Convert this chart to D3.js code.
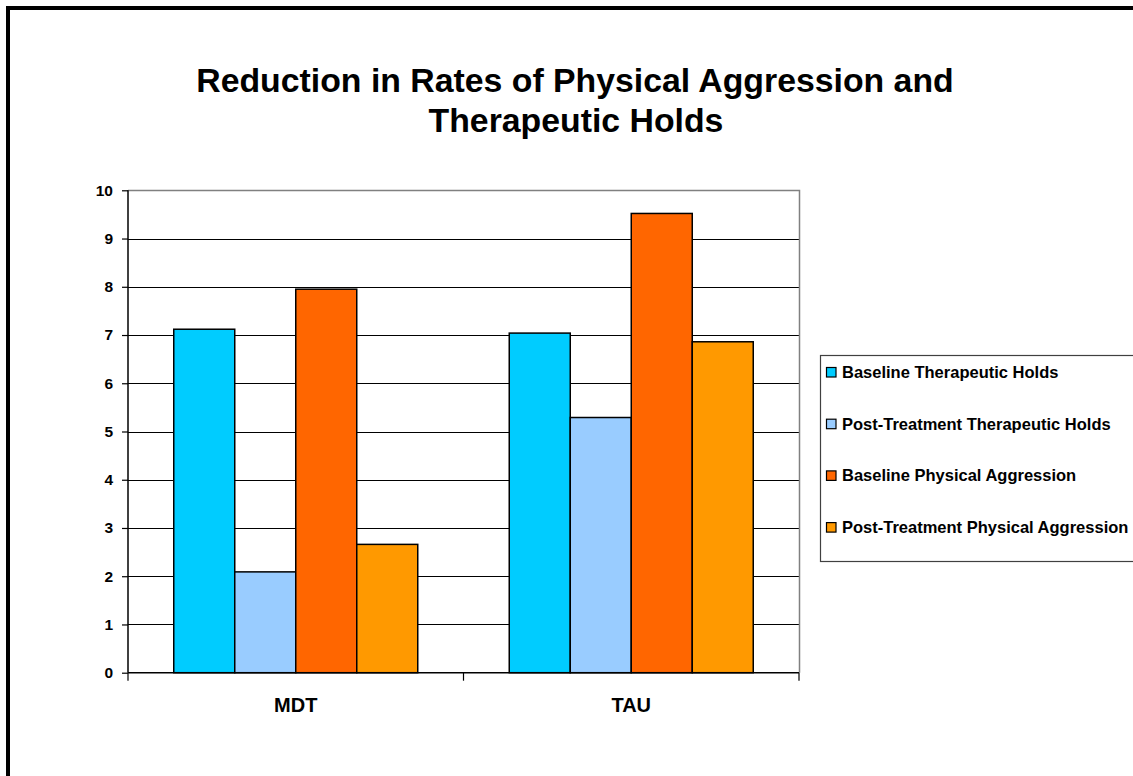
<!DOCTYPE html>
<html>
<head>
<meta charset="utf-8">
<script src="https://cdn.jsdelivr.net/npm/d3@7"></script>
<style>
  html, body { margin: 0; padding: 0; background: #fff; }
  svg { display: block; font-family: "Liberation Sans", Arial, sans-serif; }
</style>
</head>
<body>
<svg id="chart" width="1133" height="776"></svg>
<script>
const titleLines = ["Reduction in Rates of Physical Aggression and", "Therapeutic Holds"];
const categories = ["MDT", "TAU"];
const seriesNames = ["Baseline Therapeutic Holds", "Post-Treatment Therapeutic Holds", "Baseline Physical Aggression", "Post-Treatment Physical Aggression"];
const seriesColors = ["#00CCFF", "#99CCFF", "#FF6600", "#FF9900"];
const baselineHolds = [7.12, 7.04];
const postHolds = [2.09, 5.29];
const baselineAggression = [7.95, 9.52];
const postAggression = [2.66, 6.86];
const yTicks = [0, 1, 2, 3, 4, 5, 6, 7, 8, 9, 10];

(function () {
const seriesValues = [baselineHolds, postHolds, baselineAggression, postAggression];
const data = categories.map((c, ci) => ({
  category: c,
  values: seriesNames.map((s, si) => ({ series: s, idx: si, value: seriesValues[si][ci] }))
}));

const svg = d3.select("#chart");

// outer border (extends past right/bottom edge)
svg.append("rect").attr("x", 8).attr("y", 8).attr("width", 1300).attr("height", 1000)
  .attr("fill", "none").attr("stroke", "#000").attr("stroke-width", 4);

// title
svg.append("text").attr("x", 575).attr("y", 92).attr("text-anchor", "middle")
  .attr("font-size", 33.8).attr("font-weight", "bold").text(titleLines[0]);
svg.append("text").attr("x", 576).attr("y", 132).attr("text-anchor", "middle")
  .attr("font-size", 33.8).attr("font-weight", "bold").text(titleLines[1]);

const pL = 128, pR = 799, pT = 190.3, pB = 672.7;
const y = d3.scaleLinear().domain([0, 10]).range([pB, pT]);
const x0 = d3.scaleBand().domain(categories).range([pL, pR]).padding(0);
const gap = 45.75;
const x1 = d3.scaleBand().domain(seriesNames).range([gap, x0.bandwidth() - gap]).padding(0);

// gridlines
svg.append("g").selectAll("line").data(yTicks.filter(t => t > 0 && t < 10)).join("line")
  .attr("x1", pL).attr("x2", pR)
  .attr("y1", d => Math.round(y(d)) + 0.5).attr("y2", d => Math.round(y(d)) + 0.5)
  .attr("stroke", "#000").attr("stroke-width", 1);

// plot border top/right
svg.append("path")
  .attr("d", `M${pL},${Math.round(pT) + 0.5}H${pR + 0.5}V${pB}`)
  .attr("fill", "none").attr("stroke", "#808080").attr("stroke-width", 1.5);

// bars
const groups = svg.append("g").selectAll("g").data(data).join("g")
  .attr("transform", d => `translate(${x0(d.category)},0)`);
groups.selectAll("rect").data(d => d.values).join("rect")
  .attr("x", d => x1(d.series))
  .attr("y", d => y(d.value))
  .attr("width", x1.bandwidth())
  .attr("height", d => y(0) - y(d.value))
  .attr("fill", d => seriesColors[d.idx])
  .attr("stroke", "#000").attr("stroke-width", 1.5);

// y axis
const yAxis = d3.axisLeft(y).tickValues(yTicks).tickSize(6).tickPadding(9).tickFormat(d3.format("d"));
const gy = svg.append("g").attr("transform", `translate(${pL},0)`).call(yAxis);
gy.select(".domain").attr("stroke", "#000").attr("stroke-width", 1.5).attr("d", `M0,${pT}V${pB}`);
gy.selectAll(".tick line").attr("stroke", "#000").attr("stroke-width", 1.2);
gy.selectAll(".tick text").attr("font-size", 15.5).attr("font-weight", "bold").attr("fill", "#000")
  .attr("font-family", "'Liberation Sans', Arial, sans-serif");

// x axis
const gx = svg.append("g").attr("transform", `translate(0,${pB})`);
gx.append("line").attr("x1", pL).attr("x2", pR).attr("y1", 0).attr("y2", 0)
  .attr("stroke", "#000").attr("stroke-width", 1.5);
const bounds = categories.map(c => x0(c)).concat([x0(categories[categories.length - 1]) + x0.bandwidth()]);
gx.selectAll("line.b").data(bounds).join("line").attr("class", "b")
  .attr("x1", d => d).attr("x2", d => d).attr("y1", 0).attr("y2", 8)
  .attr("stroke", "#000").attr("stroke-width", 1.2);
gx.selectAll("text").data(categories).join("text")
  .attr("x", d => x0(d) + x0.bandwidth() / 2).attr("y", 39.5)
  .attr("text-anchor", "middle").attr("font-size", 20).attr("font-weight", "bold").text(d => d);

// legend
const lg = svg.append("g");
lg.append("rect").attr("x", 820.5).attr("y", 355.5).attr("width", 400).attr("height", 206)
  .attr("fill", "#fff").attr("stroke", "#404040").attr("stroke-width", 1.2);
const items = lg.selectAll("g").data(seriesNames).join("g")
  .attr("transform", (d, i) => `translate(0,${378 + i * 51.7})`);
items.append("rect").attr("x", 826.5).attr("y", -10.5).attr("width", 9.5).attr("height", 9.5)
  .attr("fill", (d, i) => seriesColors[i]).attr("stroke", "#000").attr("stroke-width", 1.2);
items.append("text").attr("x", 842).attr("y", 0).attr("font-size", 16.5).attr("font-weight", "bold").text(d => d);
})();
</script>
</body>
</html>
